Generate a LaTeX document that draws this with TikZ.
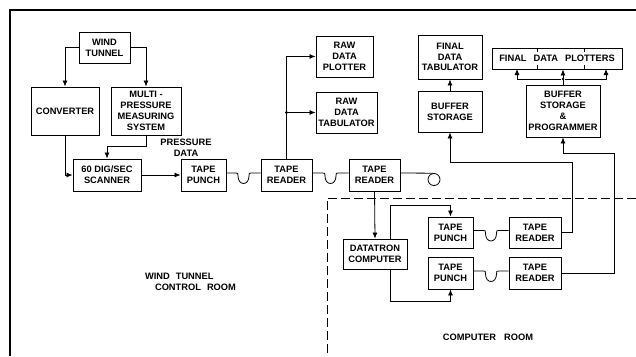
\documentclass[tikz,border=0pt]{standalone}
\usepackage{fontspec}
\setmainfont{Liberation Sans}
\usetikzlibrary{arrows.meta,calc}
\newcommand\tapeloop[2]{%
  \draw[conn] let \p1=(#1.east), \p2=(#2.west), \n1={(\x1+\x2)/2} in
    (\x1,\y1+2pt) -- (\n1-8pt,\y1+2pt) .. controls (\n1-5.5pt,\y1+2pt) .. (\n1-5.5pt,\y1-1pt)
    .. controls (\n1-5.5pt,\y1-11pt) and (\n1+5.5pt,\y1-11pt) .. (\n1+5.5pt,\y1-1pt)
    .. controls (\n1+5.5pt,\y1+2pt) .. (\n1+8pt,\y1+2pt) -- (\x2,\y1+2pt);}
\begin{document}
\begin{tikzpicture}[x=1pt,y=-1pt,
  txt/.style={font=\bfseries\fontsize{9.3}{10.8}\selectfont},
  box/.style={txt,draw,line width=0.9pt,align=center,inner sep=0pt},
  sz/.style 2 args={minimum width=#1pt,minimum height=#2pt},
  lbl/.style={txt,inner sep=0pt},
  conn/.style={line width=0.8pt},
  arr/.style={conn,-{Latex[length=6pt,width=5pt]}},
  dot/.style={circle,fill,inner sep=0pt,minimum size=3.2pt}]
\useasboundingbox (0,0) rectangle (636,356);
% frame
\draw[line width=1.2pt] (10,356) -- (10,10) -- (636,10);
\draw[line width=0.8pt,dash pattern=on 9pt off 4pt] (636,198) -- (327,198) -- (327,356);
% wind tunnel room
\node[box,sz={51}{31}] (wt) at (104.5,47.5) {WIND\\TUNNEL};
\node[box,sz={68}{48}] (conv) at (65,111) {CONVERTER};
\node[box,sz={70}{48}] (mps) at (146,111) {MULTI -\\PRESSURE\\MEASURING\\SYSTEM};
\node[box,sz={68}{32}] (scan) at (107,175) {60 DIG/SEC\\SCANNER};
\node[box,sz={45}{32}] (tp1) at (203.5,175) {TAPE\\PUNCH};
\node[box,sz={51}{32}] (tr1) at (286.5,175) {TAPE\\READER};
\node[box,sz={51}{32}] (tr2) at (374.5,175) {TAPE\\READER};
\node[draw,circle,line width=0.8pt,minimum size=12pt,inner sep=0pt] (reel) at (434,179.5) {};
\node[lbl,align=center] (pd) at (186,148) {PRESSURE\\DATA};
\node[box,sz={57}{41}] (rdp) at (344.5,56.5) {RAW\\DATA\\PLOTTER};
\node[box,sz={61}{41}] (rdt) at (346.5,112.5) {RAW\\DATA\\TABULATOR};
\node[box,sz={64}{44}] (fdt) at (450,57) {FINAL\\DATA\\TABULATOR};
\node[box,sz={64}{41}] (bs) at (450,111.5) {BUFFER\\STORAGE};
\node[box,sz={130}{21}] (fdp) at (557,58.5) {FINAL\hspace{7pt}DATA\hspace{7pt}PLOTTERS};
\node[box,sz={74}{52}] (bsp) at (563,111) {BUFFER\\STORAGE\\\&\\PROGRAMMER};
\node[lbl,align=left] (wtcr) at (190.5,281.5) {WIND\hspace{6pt}TUNNEL\\\hspace{10pt}CONTROL\hspace{6pt}ROOM};
% computer room
\node[box,sz={64}{30}] (dc) at (375,254) {DATATRON\\COMPUTER};
\node[box,sz={45}{31}] (tpu) at (450.5,232.5) {TAPE\\PUNCH};
\node[box,sz={45}{32}] (tpl) at (450.5,273) {TAPE\\PUNCH};
\node[box,sz={52}{31}] (tru) at (535,232.5) {TAPE\\READER};
\node[box,sz={52}{32}] (trl) at (535,273) {TAPE\\READER};
\node[lbl] (cr) at (488,337) {COMPUTER\hspace{8pt}ROOM};
% plotter dividers
\draw[conn] (537,48) -- (537,52) (584,48) -- (584,52) (537,69) -- (537,65) (584,69) -- (584,65);
% connectors
\draw[arr] (wt.west) -| (conv.north);
\draw[arr] (wt.east) -| (mps.north);
\draw[arr] (mps.south) -- ++(0,11) -| (scan.north);
\draw[arr] (conv.south) |- (scan.west);
\draw[arr] (scan.east) -- (tp1.west);
\tapeloop{tp1}{tr1}
\tapeloop{tr1}{tr2}
\draw[conn] ([yshift=2pt]tr2.east) -- (reel.100);
\draw[arr] (tr1.north) |- (rdp.west);
\node[dot] (j1) at (tr1.north |- rdt.west) {};
\draw[arr] (j1) -- (rdt.west);
\draw[arr] (bs.north) -- (fdt.south);
\draw[arr] (bsp.north) -- (bsp.north |- fdp.south);
\node[dot,minimum size=2.8pt] (j2) at (563,79) {};
\draw[arr] (j2) -| (517,69);
\draw[arr] (j2) -| (606,69);
\draw[arr] (tr2.south) -- (dc.north);
\draw[arr] ([xshift=15pt]dc.north) -- ++(0,-33) -| (tpu.north);
\draw[arr] ([xshift=15pt]dc.south) -- ++(0,32) -| (tpl.south);
\tapeloop{tpu}{tru}
\tapeloop{tpl}{trl}
\draw[arr] (tru.east) -- ++(11,0) |- ($(bs.south)+(0,30)$) -- (bs.south);
\draw[arr] (trl.east) -- ++(53,0) |- ($(bsp.south)+(0,16)$) -- (bsp.south);
\end{tikzpicture}
\end{document}
